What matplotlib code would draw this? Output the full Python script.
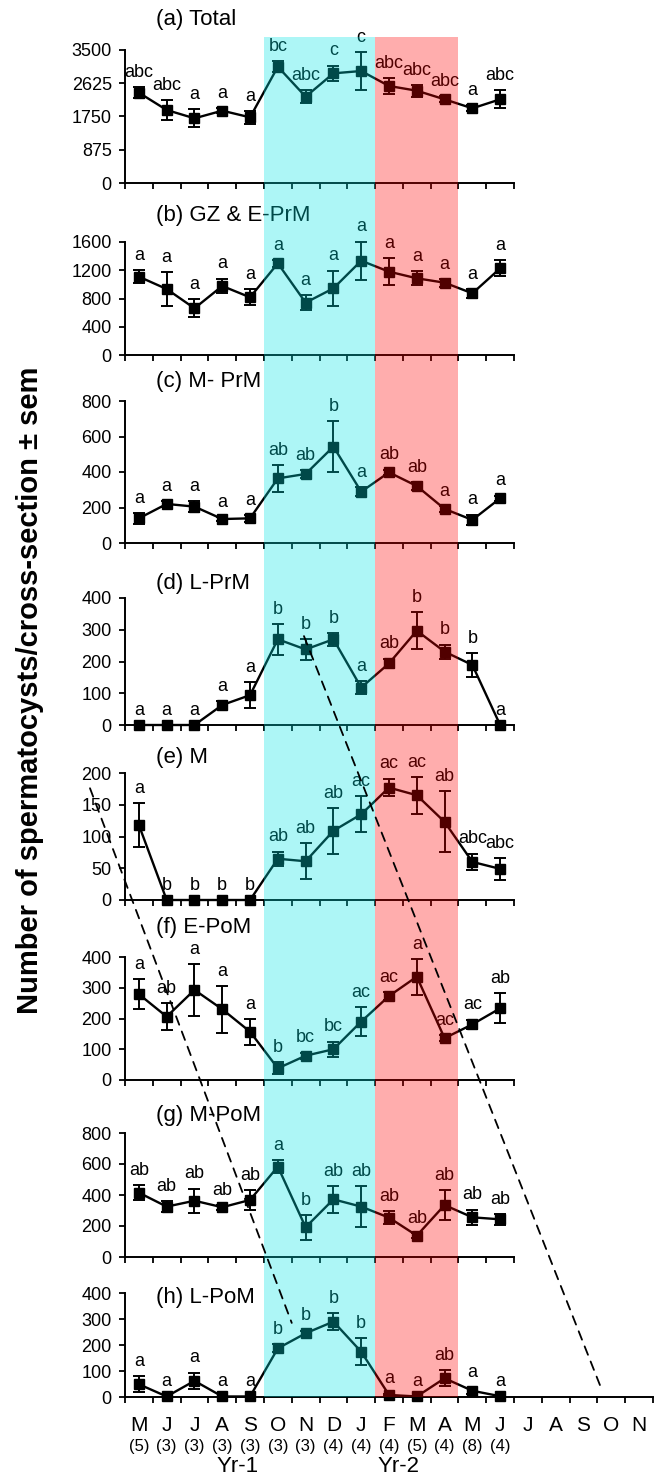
import numpy as np
import matplotlib.pyplot as plt
import matplotlib.transforms as mtransforms
from matplotlib.patches import Rectangle, ConnectionPatch

W, H = 660, 1477

months = ['M', 'J', 'J', 'A', 'S', 'O', 'N', 'D', 'J', 'F', 'M', 'A', 'M', 'J',
          'J', 'A', 'S', 'O', 'N']
counts = ['(5)', '(3)', '(3)', '(3)', '(3)', '(3)', '(3)', '(4)', '(4)', '(4)',
          '(5)', '(4)', '(8)', '(4)']

titles = ['(a) Total', '(b) GZ & E-PrM', '(c) M- PrM', '(d) L-PrM', '(e) M',
          '(f) E-PoM', '(g) M-PoM', '(h) L-PoM']

# mean values, sem and letters, one set per panel
total = [2376, 1921, 1702, 1903, 1728, 3060, 2271, 2886, 2947, 2553, 2429, 2202, 1965, 2202]
total_sem = [145, 255, 240, 60, 165, 145, 170, 200, 500, 210, 155, 80, 80, 240]
total_let = ['abc', 'abc', 'a', 'a', 'a', 'bc', 'abc', 'c', 'c', 'abc', 'abc', 'abc', 'a', 'abc']

gz = [1109, 934, 661, 977, 817, 1298, 741, 944, 1335, 1180, 1086, 1024, 873, 1227]
gz_sem = [90, 240, 125, 105, 115, 50, 105, 250, 270, 195, 100, 55, 60, 115]
gz_let = ['a'] * 14

mprm = [139, 220, 205, 135, 139, 364, 389, 543, 289, 398, 321, 192, 130, 252]
mprm_sem = [30, 15, 30, 10, 20, 75, 20, 143, 25, 15, 20, 15, 30, 15]
mprm_let = ['a', 'a', 'a', 'a', 'a', 'ab', 'ab', 'b', 'a', 'ab', 'ab', 'a', 'a', 'a']

lprm = [0, 0, 0, 63, 94, 270, 238, 270, 118, 194, 297, 231, 189, 0]
lprm_sem = [0, 0, 0, 12, 42, 48, 32, 20, 20, 15, 58, 22, 37, 0]
lprm_let = ['a', 'a', 'a', 'a', 'a', 'b', 'b', 'b', 'a', 'ab', 'b', 'b', 'b', 'a']

mei = [118, 0, 0, 0, 0, 65, 61, 109, 135, 177, 165, 123, 60, 49]
mei_sem = [35, 0, 0, 0, 0, 11, 28, 36, 28, 14, 29, 48, 13, 17]
mei_let = ['a', 'b', 'b', 'b', 'b', 'ab', 'ab', 'ab', 'ac', 'ac', 'ac', 'ab', 'abc', 'abc']

epom = [279, 206, 293, 230, 157, 38, 79, 100, 190, 273, 336, 136, 181, 233]
epom_sem = [49, 43, 85, 76, 42, 20, 10, 25, 46, 12, 58, 10, 15, 49]
epom_let = ['a', 'ab', 'a', 'a', 'a', 'b', 'bc', 'bc', 'ac', 'ac', 'a', 'ac', 'ac', 'ab']

mpom = [415, 325, 363, 321, 368, 583, 192, 372, 325, 254, 138, 335, 256, 243]
mpom_sem = [48, 35, 78, 15, 65, 40, 80, 85, 130, 40, 15, 95, 50, 35]
mpom_let = ['ab', 'ab', 'ab', 'ab', 'ab', 'a', 'b', 'ab', 'ab', 'ab', 'ab', 'ab', 'ab', 'ab']

lpom = [49, 2, 62, 2, 2, 187, 245, 290, 174, 8, 2, 72, 24, 3]
lpom_sem = [31, 0, 32, 0, 0, 15, 10, 33, 52, 5, 0, 30, 12, 0]
lpom_let = ['a', 'a', 'a', 'a', 'a', 'b', 'b', 'b', 'b', 'a', 'a', 'ab', 'a', 'a']

series = [total, gz, mprm, lprm, mei, epom, mpom, lpom]
sems = [total_sem, gz_sem, mprm_sem, lprm_sem, mei_sem, epom_sem, mpom_sem, lpom_sem]
letters = [total_let, gz_let, mprm_let, lprm_let, mei_let, epom_let, mpom_let, lpom_let]
yticks = [np.linspace(0, 3500, 5), np.arange(0, 1601, 400), np.arange(0, 801, 200),
          np.arange(0, 401, 100), np.arange(0, 201, 50), np.arange(0, 401, 100),
          np.arange(0, 801, 200), np.arange(0, 401, 100)]

# panel layout in pixels (top of axis, zero line, title centre)
tops = [50, 242, 401, 598, 773, 957, 1133, 1293]
bottoms = [183, 355, 543, 725, 900, 1080, 1257, 1397]
title_y = [20, 216, 382, 583, 758, 928, 1115, 1297]
left_px, right_px = 125, 653

plt.rcParams['font.family'] = ['Liberation Sans', 'DejaVu Sans']
fig = plt.figure(figsize=(W / 100, H / 100), dpi=100)

x = np.arange(14) + 0.5
axes = []
for i in range(8):
    ax = fig.add_axes([left_px / W, 1 - bottoms[i] / H, (right_px - left_px) / W,
                       (bottoms[i] - tops[i]) / H])
    axes.append(ax)
    vals = np.array(series[i], dtype=float)
    err = np.array(sems[i], dtype=float)
    ax.plot(x, vals, '-s', color='black', lw=1.7, ms=7, clip_on=False, zorder=3)
    mask = err > 0
    eb = ax.errorbar(x[mask], vals[mask], yerr=err[mask], fmt='none', ecolor='black',
                     elinewidth=1.4, capsize=4.5, capthick=1.4, zorder=3)
    for art in eb.get_children():
        art.set_clip_on(False)
    for xi, v, e, lab in zip(x, vals, err, letters[i]):
        ax.annotate(lab, (xi, v + e), xytext=(0, 4.5), textcoords='offset points',
                    ha='center', va='bottom', fontsize=13, annotation_clip=False)

    ax.set_xlim(0, 19)
    ax.set_ylim(0, yticks[i][-1])
    ax.set_yticks(yticks[i])
    ax.set_yticklabels(['%g' % t for t in yticks[i]], fontsize=13)
    n = 19 if i == 7 else 14
    ax.set_xticks(range(n + 1))
    ax.set_xticklabels([])
    ax.spines['bottom'].set_bounds(0, n)
    for s in ['top', 'right']:
        ax.spines[s].set_visible(False)
    for s in ['left', 'bottom']:
        ax.spines[s].set_linewidth(1.4)
    ax.tick_params(which='major', direction='out', length=4.5, width=1.3, pad=5)
    ax.patch.set_alpha(0)
    fig.text(156 / W, 1 - title_y[i] / H, titles[i], fontsize=16, va='center', ha='left')

# month labels on the last panel
axh = axes[7]
axh.set_xticks(np.arange(19) + 0.5, minor=True)
axh.set_xticklabels(months, minor=True, fontsize=15)
axh.tick_params(which='minor', length=0, pad=14)
blend = mtransforms.blended_transform_factory(axh.transData, fig.transFigure)
for xi, c in zip(x, counts):
    axh.text(xi, 1 - 1447 / H, c, transform=blend, ha='center', va='center', fontsize=12)
axh.text(4.05, 1 - 1466 / H, 'Yr-1', transform=blend, ha='center', va='center', fontsize=16)
axh.text(9.85, 1 - 1466 / H, 'Yr-2', transform=blend, ha='center', va='center', fontsize=16)

fig.text(30 / W, 1 - 690 / H, 'Number of spermatocysts/cross-section ± sem',
         rotation=90, fontsize=21, fontweight='bold', ha='center', va='center')

# shaded seasons drawn over all panels
inv = fig.transFigure.inverted()
top_fig = inv.transform(axes[0].transAxes.transform((0, 1 + 13 / 133)))[1]
bot_fig = inv.transform(axh.transData.transform((0, 0)))[1]
for (x0, x1), col in [((5, 9), (0.0, 0.9, 0.9)), ((9, 12), (1.0, 0.0, 0.0))]:
    fx0 = inv.transform(axh.transData.transform((x0, 0)))[0]
    fx1 = inv.transform(axh.transData.transform((x1, 0)))[0]
    rect = Rectangle((fx0, bot_fig), fx1 - fx0, top_fig - bot_fig, transform=fig.transFigure,
                     facecolor=col, alpha=0.32, edgecolor='none', zorder=10)
    fig.add_artist(rect)

# dashed guide lines
for (ia, pa), (ib, pb) in [((3, (6.44, 280)), (7, (17.09, 46))),
                          ((4, (-1.26, 176)), (7, (6.0, 285)))]:
    con = ConnectionPatch(xyA=pa, coordsA='data', axesA=axes[ia],
                          xyB=pb, coordsB='data', axesB=axes[ib],
                          color='black', lw=1.3, linestyle=(0, (5, 4)), zorder=11)
    con.set_annotation_clip(False)
    fig.add_artist(con)

fig.savefig('out.png', dpi=100)
